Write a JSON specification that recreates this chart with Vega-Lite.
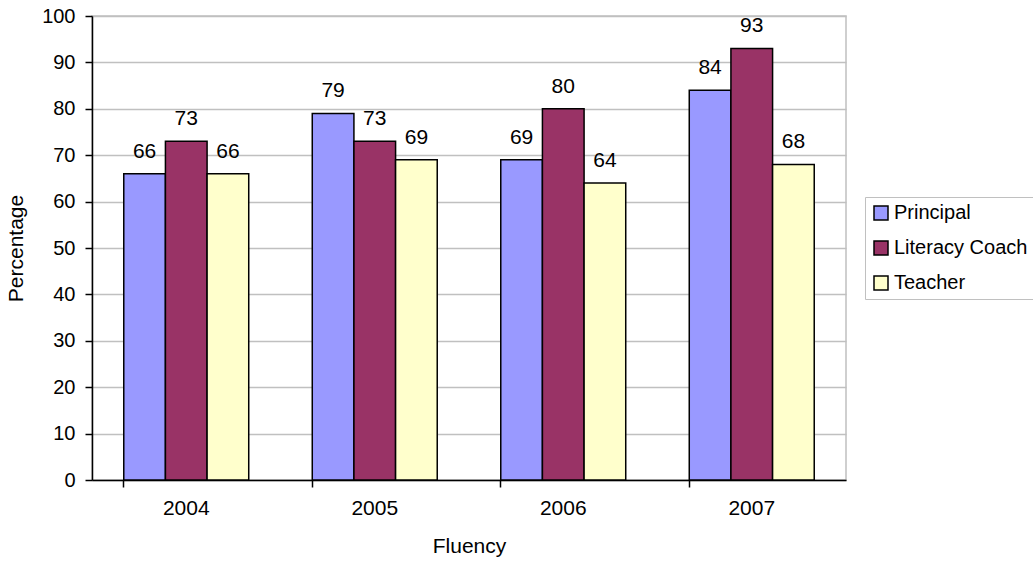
{
  "$schema": "https://vega.github.io/schema/vega-lite/v6.json",
  "autosize": {"type": "none"},
  "padding": {"left": 92, "top": 16, "right": 187, "bottom": 83},
  "width": 754,
  "height": 464,
  "background": "white",
  "config": {
    "font": "Liberation Sans",
    "view": {"stroke": "#c0c0c0", "strokeWidth": 1.5},
    "axis": {"labelFont": "Liberation Sans", "titleFont": "Liberation Sans", "labelColor": "black", "titleColor": "black", "titleFontWeight": "normal"}
  },
  "data": {
    "values": [
      {"year": "2004", "role": "Principal", "value": 66},
      {"year": "2004", "role": "Literacy Coach", "value": 73},
      {"year": "2004", "role": "Teacher", "value": 66},
      {"year": "2005", "role": "Principal", "value": 79},
      {"year": "2005", "role": "Literacy Coach", "value": 73},
      {"year": "2005", "role": "Teacher", "value": 69},
      {"year": "2006", "role": "Principal", "value": 69},
      {"year": "2006", "role": "Literacy Coach", "value": 80},
      {"year": "2006", "role": "Teacher", "value": 64},
      {"year": "2007", "role": "Principal", "value": 84},
      {"year": "2007", "role": "Literacy Coach", "value": 93},
      {"year": "2007", "role": "Teacher", "value": 68}
    ]
  },
  "encoding": {
    "x": {
      "field": "year", "type": "nominal",
      "scale": {"paddingInner": 0.337, "paddingOuter": 0.1685},
      "axis": {
        "title": "Fluency", "labelAngle": 0, "labelFontSize": 21, "titleFontSize": 21,
        "domainColor": "black", "domainWidth": 1.5, "tickColor": "black", "tickWidth": 1.5,
        "tickSize": 7, "bandPosition": 0, "labelPadding": 10, "titlePadding": 17, "grid": false
      }
    },
    "xOffset": {"field": "role", "type": "nominal", "sort": ["Principal", "Literacy Coach", "Teacher"], "scale": {"paddingInner": 0, "paddingOuter": 0}},
    "y": {
      "field": "value", "type": "quantitative",
      "scale": {"domain": [0, 100], "nice": false},
      "axis": {
        "title": "Percentage", "values": [0,10,20,30,40,50,60,70,80,90,100],
        "labelFontSize": 20, "titleFontSize": 21,
        "domainColor": "black", "domainWidth": 1.5, "tickColor": "black", "tickWidth": 1.5,
        "tickSize": 7, "labelPadding": 10, "titlePadding": 15,
        "gridColor": "#c0c0c0", "gridWidth": 1.5
      }
    }
  },
  "layer": [
    {
      "mark": {"type": "bar", "stroke": "black", "strokeWidth": 1.5},
      "encoding": {
        "color": {
          "field": "role", "type": "nominal",
          "sort": ["Principal", "Literacy Coach", "Teacher"],
          "scale": {"domain": ["Principal", "Literacy Coach", "Teacher"], "range": ["#9999FF", "#993366", "#FFFFCC"]},
          "legend": {
            "title": null, "orient": "none", "legendX": 773, "legendY": 181,
            "symbolType": "square", "symbolSize": 196, "symbolStrokeColor": "black", "symbolStrokeWidth": 1.5,
            "symbolOpacity": 1,
            "labelFontSize": 20, "labelFont": "Liberation Sans", "labelColor": "black", "labelLimit": 300,
            "rowPadding": 15, "padding": 6, "strokeColor": "#c0c0c0", "fillColor": "white", "labelOffset": 3
          }
        }
      }
    },
    {
      "mark": {"type": "text", "baseline": "alphabetic", "dy": -16, "fontSize": 21, "font": "Liberation Sans", "color": "black"},
      "encoding": {"text": {"field": "value", "type": "quantitative"}}
    }
  ]
}
